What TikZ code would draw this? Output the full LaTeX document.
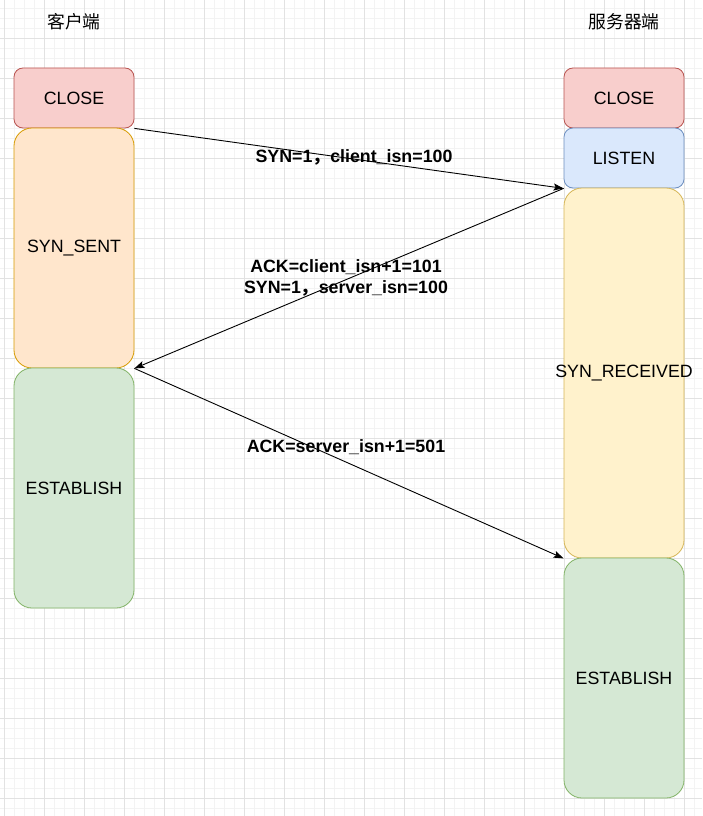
\documentclass[tikz,border=0pt]{standalone}
\usepackage{fontspec}
\setmainfont{Liberation Sans}
\newfontfamily\cjk{Noto Sans CJK SC}
\usepackage{tikz}
\usetikzlibrary{arrows.meta,positioning}
\definecolor{closefill}{HTML}{F8CECC}
\definecolor{closeline}{HTML}{B85450}
\definecolor{sentfill}{HTML}{FFE6CC}
\definecolor{sentline}{HTML}{D79B00}
\definecolor{listenfill}{HTML}{DAE8FC}
\definecolor{listenline}{HTML}{6C8EBF}
\definecolor{rcvdfill}{HTML}{FFF2CC}
\definecolor{rcvdline}{HTML}{D6B656}
\definecolor{estfill}{HTML}{D5E8D4}
\definecolor{estline}{HTML}{82B366}
\definecolor{gridminor}{HTML}{F3F3F3}
\definecolor{gridmajor}{HTML}{E2E2E2}

\begin{document}
\begin{tikzpicture}[
x=1pt,y=-1pt,
st/.style={
draw,
rounded corners=9pt,
minimum width=120pt,
minimum height=60pt,
inner sep=0pt,
line width=0.8pt,
font=\fontsize{17.8}{21}\selectfont
},
tall/.style={
st,
rounded corners=18pt
},
lab/.style={
font=\fontsize{17.8}{21}\selectfont\bfseries,
align=center
},
edge/.style={
-{Stealth[length=10pt,width=7pt,inset=2pt]},
line width=0.9pt
}
]

\useasboundingbox[fill=white] (0,0) rectangle (702,816);

% background grid
\foreach \gx in {4,14,...,694}
\draw[gridminor,line width=0.8pt] (\gx,0) -- (\gx,816);
\foreach \gy in {8,18,...,808}
\draw[gridminor,line width=0.8pt] (0,\gy) -- (702,\gy);
\foreach \gx in {4,44,...,684}
\draw[gridmajor,line width=0.8pt] (\gx,0) -- (\gx,816);
\foreach \gy in {38,78,...,798}
\draw[gridmajor,line width=0.8pt] (0,\gy) -- (702,\gy);

\node[font=\fontsize{17.8}{21}\cjk] (client) at (74,22) {客户端};
\node[font=\fontsize{17.8}{21}\cjk] (server) at (624,22) {服务器端};

% client side
\node[st,fill=closefill,draw=closeline] (cclose) at (74,98) {CLOSE};
\node[tall,fill=sentfill,draw=sentline,minimum height=240pt] (csent) at (74,248) {SYN\_SENT};
\node[tall,fill=estfill,draw=estline,minimum height=240pt] (cest) at (74,488) {ESTABLISH};

% server side
\node[st,fill=closefill,draw=closeline] (sclose) at (624,98) {CLOSE};
\node[st,fill=listenfill,draw=listenline] (slisten) at (624,158) {LISTEN};
\node[tall,fill=rcvdfill,draw=rcvdline,minimum height=370pt] (srcvd) at (624,373) {\makebox[0pt]{SYN\_RECEIVED}};
\node[tall,fill=estfill,draw=estline,minimum height=240pt] (sest) at (624,678) {ESTABLISH};

\draw[edge] (cclose.south east) -- (slisten.south west);
\draw[edge] (slisten.south west) -- (csent.south east);
\draw[edge] (csent.south east) -- (srcvd.south west);

\node[lab] (syn) at (354,157) {SYN=1{\cjk ，}client\_isn=100};
\node[lab] (synack) at (346,278) {ACK=client\_isn+1=101\\SYN=1{\cjk ，}server\_isn=100};
\node[lab] (ack) at (346,447) {ACK=server\_isn+1=501};

\end{tikzpicture}
\end{document}
